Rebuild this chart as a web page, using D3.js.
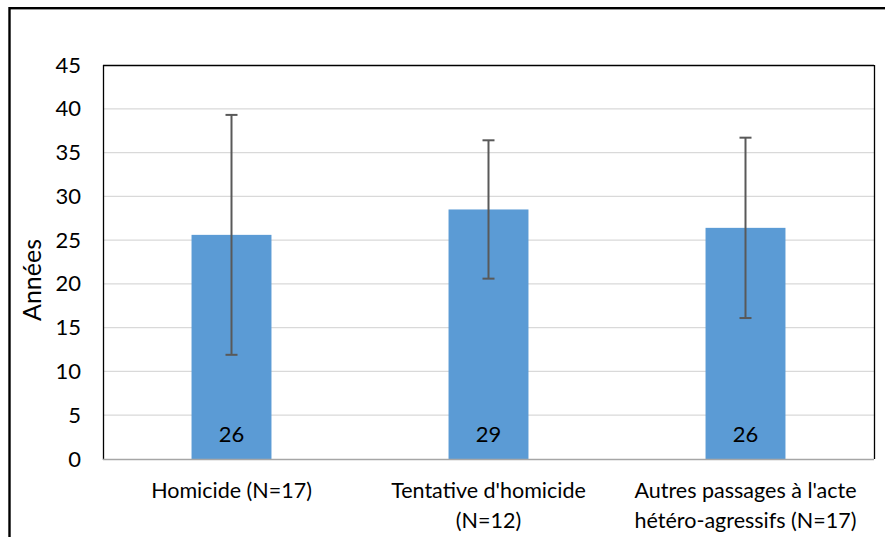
<!DOCTYPE html>
<html>
<head>
<meta charset="utf-8">
<script src="https://cdn.jsdelivr.net/npm/d3@7"></script>
<style>
  html, body { margin: 0; padding: 0; background: #fff; }
  svg { display: block; font-family: Lato, "Liberation Sans", sans-serif; }
</style>
</head>
<body>
<svg id="chart" width="885" height="537"></svg>
<script>
const categories = [["Homicide (N=17)"], ["Tentative d'homicide", "(N=12)"], ["Autres passages à l'acte", "hétéro-agressifs (N=17)"]];
const means = [25.6, 28.5, 26.4];
const errors = [13.7, 7.9, 10.3];
const dataLabels = ["26", "29", "26"];
const yTicks = [0, 5, 10, 15, 20, 25, 30, 35, 40, 45];
const yTitle = "Années";

const svg = d3.select("#chart");
const margin = { left: 103, top: 65, right: 874, bottom: 459 };

// outer frame
svg.append("rect").attr("x", 9.5).attr("y", 8.2).attr("width", 900).attr("height", 600)
  .attr("fill", "none").attr("stroke", "#000").attr("stroke-width", 2.4);

const x = d3.scaleBand().domain(d3.range(categories.length)).range([margin.left, margin.right]).padding(0);
const y = d3.scaleLinear().domain([0, 45]).range([margin.bottom, margin.top]);
const barW = x.bandwidth() * 0.311;

// gridlines
svg.append("g").selectAll("line").data(yTicks.filter(d => d > 0 && d < 45)).join("line")
  .attr("x1", margin.left).attr("x2", margin.right)
  .attr("y1", d => y(d)).attr("y2", d => y(d))
  .attr("stroke", "#d9d9d9").attr("stroke-width", 1.2);

// bars
svg.append("g").selectAll("rect").data(means).join("rect")
  .attr("x", (d, i) => x(i) + x.bandwidth() / 2 - barW / 2)
  .attr("width", barW)
  .attr("y", d => y(d))
  .attr("height", d => y(0) - y(d))
  .attr("fill", "#5b9bd5");

// error bars
const eg = svg.append("g").attr("stroke", "#595959").attr("stroke-width", 2);
means.forEach((m, i) => {
  const cx = x(i) + x.bandwidth() / 2;
  eg.append("line").attr("x1", cx).attr("x2", cx).attr("y1", y(m + errors[i])).attr("y2", y(m - errors[i]));
  [m + errors[i], m - errors[i]].forEach(v => {
    eg.append("line").attr("x1", cx - 6).attr("x2", cx + 6).attr("y1", y(v)).attr("y2", y(v));
  });
});

// data labels
svg.append("g").selectAll("text").data(dataLabels).join("text")
  .attr("x", (d, i) => x(i) + x.bandwidth() / 2)
  .attr("y", y(0) - 17)
  .attr("text-anchor", "middle").attr("font-size", 22).attr("fill", "#000")
  .text(d => d);

// plot border
svg.append("line").attr("x1", margin.left).attr("x2", margin.right).attr("y1", margin.top + 0.5).attr("y2", margin.top + 0.5).attr("stroke", "#000").attr("stroke-width", 1.3);
svg.append("line").attr("x1", margin.right + 0.5).attr("x2", margin.right + 0.5).attr("y1", margin.top).attr("y2", margin.bottom).attr("stroke", "#000").attr("stroke-width", 1.3);
svg.append("line").attr("x1", margin.left + 0.5).attr("x2", margin.left + 0.5).attr("y1", margin.top).attr("y2", margin.bottom + 1).attr("stroke", "#000").attr("stroke-width", 1.3);
svg.append("line").attr("x1", margin.left).attr("x2", margin.right).attr("y1", margin.bottom + 0.5).attr("y2", margin.bottom + 0.5).attr("stroke", "#a6a6a6").attr("stroke-width", 1.3);

// y axis ticks labels
const yAxis = d3.axisLeft(y).tickValues(yTicks).tickSize(0).tickPadding(22);
const yg = svg.append("g").attr("transform", `translate(${margin.left},0)`).call(yAxis);
yg.select(".domain").remove();
yg.selectAll("text").attr("font-size", 22).attr("font-family", "Lato, sans-serif").attr("fill", "#000");

// x category labels
const xg = svg.append("g");
categories.forEach((lines, i) => {
  const t = xg.append("text").attr("x", x(i) + x.bandwidth() / 2).attr("y", 498)
    .attr("text-anchor", "middle").attr("font-size", 21.5).attr("fill", "#000");
  lines.forEach((l, j) => t.append("tspan").attr("x", x(i) + x.bandwidth() / 2).attr("dy", j === 0 ? 0 : 30).text(l));
});

// y title
svg.append("text").attr("transform", `translate(41,280) rotate(-90)`)
  .attr("text-anchor", "middle").attr("font-size", 25).attr("fill", "#000").text(yTitle);
</script>
</body>
</html>
